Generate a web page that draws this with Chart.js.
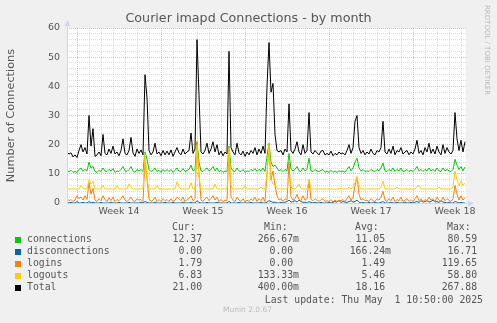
<!DOCTYPE html>
<html>
<head>
<meta charset="utf-8">
<script src="https://cdn.jsdelivr.net/npm/chart.js@4/dist/chart.umd.min.js"></script>
<style>
  html, body { margin: 0; padding: 0; background: #f0f0f0; }
  #wrap { position: relative; width: 497px; height: 323px; overflow: hidden; }
  #chart { position: absolute; left: 0; top: 0; }
  .txt { position: absolute; white-space: pre; font-family: "DejaVu Sans Mono", monospace; font-size: 9.8px; line-height: 12px; color: #555; }
  .sq { position: absolute; width: 6px; height: 6px; }
  .faint { position: absolute; white-space: pre; font-family: "DejaVu Sans", sans-serif; color: #bbb; }
</style>
</head>
<body>
<div id="wrap">
  <canvas id="chart" width="497" height="323"></canvas>
</div>
<script>
// one sample every 4 hours, 200 samples (about 33 days)
const STEP_HOURS = 4
const WEEK_START_HOUR = 20   // first week boundary, hours after left edge
const weekLabels = ["Week 14", "Week 15", "Week 16", "Week 17", "Week 18"]
const yTickLabels = [0, 10, 20, 30, 40, 50, 60]

const connections = [
  11.0, 10.8, 11.2, 10.5, 10.8, 10.5, 11.5, 12.0, 11.0, 11.5,
  11.0, 14.0, 12.0, 12.5, 10.8, 10.5, 11.2, 10.8, 12.0, 11.0,
  10.8, 11.5, 11.0, 11.8, 10.5, 11.0, 10.8, 11.5, 12.5, 11.0,
  10.8, 11.5, 12.5, 11.0, 10.5, 11.5, 11.0, 11.5, 10.8, 17.5,
  15.0, 11.5, 10.8, 11.2, 12.0, 10.8, 11.2, 10.5, 11.5, 10.8,
  11.5, 10.8, 11.5, 10.5, 11.2, 12.0, 11.0, 10.8, 11.8, 10.8,
  11.2, 11.5, 13.0, 11.0, 11.5, 21.0, 14.0, 11.0, 10.8, 11.5,
  12.0, 11.0, 11.5, 12.5, 11.0, 12.0, 10.8, 11.2, 10.5, 11.0,
  10.8, 19.5, 12.0, 11.0, 10.8, 12.0, 11.0, 10.8, 11.5, 10.5,
  11.0, 10.8, 11.5, 11.0, 11.8, 10.8, 11.5, 11.0, 12.0, 10.8,
  16.0, 20.5, 14.0, 12.5, 13.0, 12.0, 11.0, 11.5, 10.8, 11.5,
  11.0, 17.0, 11.5, 11.0, 11.5, 12.5, 11.0, 10.8, 12.0, 11.0,
  11.5, 15.4, 11.0, 10.8, 11.5, 11.0, 10.8, 11.2, 11.5, 10.5,
  11.0, 10.5, 11.2, 10.5, 11.0, 10.5, 11.0, 10.8, 11.0, 10.5,
  11.5, 12.5, 11.0, 12.0, 14.0, 15.4, 12.0, 11.0, 11.5, 10.8,
  11.0, 10.8, 11.5, 11.0, 10.8, 11.5, 11.0, 12.0, 13.7, 11.0,
  10.8, 11.5, 11.0, 12.0, 10.8, 11.5, 11.0, 12.0, 10.8, 11.0,
  11.5, 10.8, 11.2, 10.8, 11.5, 12.5, 11.0, 11.5, 10.8, 11.5,
  11.0, 12.0, 11.0, 11.5, 10.8, 12.0, 11.0, 10.8, 12.0, 11.0,
  11.5, 11.0, 10.8, 11.5, 15.0, 13.0, 11.5, 12.5, 11.0, 12.37
]

const disconnections = [
  0.3, 0, 0.2, 0, 0, 0.5, 0, 0, 0.2, 0,
  0, 0.5, 0, 0.3, 0, 0, 0, 0.2, 0, 0,
  0, 0, 0.3, 0, 0, 0, 0.2, 0, 0, 0,
  0, 0.2, 0, 0, 0, 0, 0, 0.3, 0, 0.5,
  0.2, 0, 0, 0, 0.3, 0, 0, 0, 0, 0.2,
  0, 0, 0, 0.2, 0, 0, 0, 0, 0.3, 0,
  0, 0, 0.3, 0, 0, 0.8, 0.2, 0, 0, 0,
  0.2, 0, 0, 0, 0, 0.3, 0, 0, 0, 0,
  0, 0.5, 0, 0, 0, 0, 0.2, 0, 0, 0,
  0, 0, 0.2, 0, 0, 0, 0, 0.3, 0, 0,
  0.3, 0.8, 0.5, 0.2, 0.3, 0, 0, 0.2, 0, 0.3,
  0.5, 1.0, 0.3, 0.5, 0.8, 0.3, 1.0, 0.5, 0.2, 0.3,
  0, 0.5, 0.2, 0, 0.3, 0, 0, 0.2, 0, 0,
  0, 0.3, 0, 0.2, 0.5, 0.3, 0.8, 0.2, 0.5, 0.3,
  0.2, 0.5, 0.8, 0.3, 0.5, 1.0, 0.3, 0, 0.2, 0,
  0, 0.2, 0, 0, 0.3, 0, 0, 0.2, 0.5, 0,
  0, 0, 0.3, 0, 0, 0.2, 0, 0, 0, 0.3,
  0, 0, 0.2, 0, 0.3, 0.5, 0.2, 0.8, 0.3, 0.5,
  0.8, 0.3, 0.5, 1.0, 0.3, 0.5, 0.2, 0.8, 0.3, 0.2,
  0, 0.3, 0, 0, 0.5, 0.3, 0, 0.2, 0, 0
]

const logins = [
  1.5, 0.8, 1.2, 0.5, 1.0, 2.5, 1.5, 2.0, 1.0, 2.5,
  1.2, 7.0, 3.0, 5.0, 1.0, 0.5, 1.5, 0.8, 2.5, 1.2,
  0.5, 1.8, 0.8, 2.0, 0.5, 1.2, 0.8, 1.5, 2.5, 1.0,
  0.5, 1.2, 2.0, 0.8, 0.5, 1.5, 1.0, 1.2, 0.5, 15.0,
  8.0, 1.5, 0.5, 1.0, 2.0, 0.5, 1.2, 0.5, 1.5, 0.8,
  1.2, 0.5, 1.5, 0.5, 1.0, 2.0, 1.5, 0.8, 2.0, 0.5,
  1.2, 1.5, 2.5, 0.8, 1.5, 21.0, 10.0, 1.0, 0.5, 1.5,
  2.0, 0.8, 1.5, 2.5, 1.0, 2.0, 0.5, 1.2, 0.5, 1.0,
  0.8, 19.0, 2.0, 1.0, 0.5, 2.0, 1.0, 0.5, 1.5, 0.3,
  1.0, 0.5, 1.5, 0.8, 2.0, 0.5, 1.5, 0.8, 2.0, 0.5,
  10.0, 20.0, 8.0, 11.0, 6.0, 2.5, 1.0, 1.5, 0.5, 1.5,
  1.0, 14.0, 2.0, 1.0, 1.5, 3.0, 1.2, 0.8, 2.5, 1.0,
  1.5, 8.0, 1.2, 0.8, 1.5, 1.0, 0.5, 1.2, 1.5, 0.5,
  0.8, 0.5, 1.2, 0.3, 1.0, 0.5, 1.0, 0.8, 1.2, 0.5,
  1.5, 2.5, 1.0, 2.0, 6.0, 9.0, 3.0, 1.0, 1.5, 0.8,
  1.0, 0.5, 1.5, 0.8, 0.5, 1.5, 1.0, 2.0, 4.0, 1.0,
  0.5, 1.5, 0.8, 2.0, 0.5, 1.2, 0.8, 2.0, 0.5, 1.0,
  1.5, 0.5, 1.2, 0.5, 1.5, 2.5, 0.8, 1.5, 0.5, 1.2,
  0.8, 2.0, 1.0, 1.5, 0.5, 2.0, 1.0, 0.5, 2.0, 0.8,
  1.5, 1.0, 0.5, 1.5, 6.0, 3.0, 1.0, 2.5, 1.0, 1.79
]

const logouts = [
  4.8, 4.8, 4.8, 4.8, 4.8, 4.8, 4.8, 6.0, 5.2, 4.8,
  4.8, 8.0, 6.5, 7.5, 4.8, 4.8, 4.8, 4.8, 6.0, 4.8,
  4.8, 4.8, 4.8, 4.8, 4.8, 6.0, 4.8, 4.8, 4.8, 4.8,
  4.8, 6.5, 5.5, 4.8, 4.8, 4.8, 4.8, 4.8, 4.8, 17.0,
  8.0, 4.8, 4.8, 4.8, 4.8, 6.0, 4.8, 4.8, 4.8, 4.8,
  4.8, 4.8, 4.8, 4.8, 4.8, 7.3, 5.5, 4.8, 4.8, 4.8,
  4.8, 4.8, 7.0, 4.8, 4.8, 20.0, 9.0, 4.8, 4.8, 4.8,
  4.8, 4.8, 4.8, 4.8, 6.5, 4.8, 4.8, 4.8, 4.8, 4.8,
  4.8, 19.0, 6.0, 4.8, 4.8, 4.8, 4.8, 4.8, 4.8, 6.0,
  4.8, 4.8, 4.8, 4.8, 4.8, 4.8, 4.8, 5.5, 4.8, 4.8,
  10.0, 20.0, 8.0, 6.5, 6.5, 5.2, 4.8, 4.8, 4.8, 4.8,
  4.8, 8.5, 5.5, 4.8, 4.8, 5.5, 6.5, 5.0, 4.8, 4.8,
  4.8, 8.0, 4.8, 4.8, 4.8, 4.8, 4.8, 4.8, 4.8, 4.8,
  4.8, 4.8, 4.8, 4.8, 4.8, 4.8, 4.8, 5.0, 4.8, 4.8,
  4.8, 5.5, 4.8, 5.5, 7.0, 9.0, 6.0, 4.8, 4.8, 4.8,
  4.8, 4.8, 4.8, 4.8, 4.8, 4.8, 4.8, 5.5, 7.5, 4.8,
  4.8, 4.8, 4.8, 4.8, 4.8, 5.5, 4.8, 4.8, 4.8, 4.8,
  4.8, 4.8, 4.8, 4.8, 4.8, 5.5, 6.0, 4.8, 4.8, 4.8,
  4.8, 4.8, 4.8, 4.8, 4.8, 4.8, 5.5, 4.8, 4.8, 4.8,
  4.8, 4.8, 4.8, 5.5, 11.0, 8.0, 6.0, 7.5, 6.0, 6.83
]

const total = [
  17.5, 16.8, 17.2, 15.8, 16.5, 15.6, 18.0, 20.0, 17.5, 19.0,
  16.8, 30.0, 19.5, 25.5, 16.0, 16.5, 17.5, 16.2, 23.5, 17.0,
  16.5, 18.5, 17.0, 19.5, 16.8, 17.5, 16.2, 18.0, 22.0, 17.0,
  16.5, 18.0, 22.5, 17.2, 16.0, 18.5, 17.0, 18.2, 16.5, 44.0,
  36.0, 18.0, 16.5, 17.5, 20.5, 16.8, 17.5, 16.2, 18.0, 16.5,
  17.8, 16.5, 18.2, 16.0, 17.5, 19.0, 17.2, 16.5, 18.5, 16.8,
  17.5, 18.0, 24.0, 17.0, 18.5, 56.0, 37.0, 17.5, 16.8, 18.0,
  20.5, 17.0, 18.5, 21.0, 17.5, 20.0, 16.5, 17.8, 16.2, 17.5,
  16.8, 52.0, 19.0, 17.5, 16.5, 20.5, 17.2, 16.5, 17.8, 16.0,
  17.5, 16.5, 18.0, 17.0, 19.0, 16.5, 18.5, 17.0, 19.5, 17.0,
  40.0, 55.0, 38.0, 41.0, 23.5, 18.0, 17.5, 18.0, 16.5, 18.5,
  17.5, 34.0, 18.0, 17.0, 18.5, 21.0, 17.5, 16.5, 20.0, 17.0,
  18.0, 31.0, 17.5, 16.8, 18.0, 17.2, 16.5, 17.8, 18.0, 16.5,
  17.0, 16.5, 17.8, 16.2, 17.0, 16.5, 17.5, 16.8, 17.2, 16.5,
  18.0, 20.0, 17.0, 19.0, 28.0, 30.0, 19.0, 17.0, 18.0, 16.5,
  17.5, 16.8, 18.5, 17.0, 16.5, 18.0, 17.5, 19.0, 28.0, 17.5,
  16.8, 18.5, 17.0, 19.5, 16.5, 18.0, 17.5, 19.0, 16.8, 17.5,
  18.0, 16.5, 17.5, 16.8, 18.5, 21.5, 17.0, 18.0, 16.5, 19.0,
  17.5, 20.5, 17.0, 18.5, 16.8, 19.5, 17.5, 16.5, 20.0, 17.0,
  19.0, 17.5, 16.8, 18.0, 31.0, 22.0, 18.0, 21.5, 17.5, 21.0
]

const seriesNames = ["connections", "disconnections", "logins", "logouts", "Total"]
const seriesColors = ["#00cc00", "#0066b3", "#ff8000", "#ffcc00", "#000000"]
const curValues = ["12.37 ", " 0.00 ", " 1.79 ", " 6.83 ", "21.00 "]
const minValues = ["266.67m", "  0.00 ", "  0.00 ", "133.33m", "400.00m"]
const avgValues = [" 11.05 ", "166.24m", "  1.49 ", "  5.46 ", " 18.16 "]
const maxValues = [" 80.59 ", " 16.71 ", "119.65 ", " 58.80 ", "267.88 "]
const lastUpdate = "Last update: Thu May  1 10:50:00 2025"

const seriesData = [connections, disconnections, logins, logouts, total]

// plot box in px (munin layout)
const PLOT = { left: 67, right: 466, top: 28, bottom: 203 }
const X_MAX = (PLOT.right - PLOT.left) * 2   // 2 hours per pixel

const toPoints = (arr) => arr.map((v, i) => ({ x: i * STEP_HOURS, y: v }))

const majorGrid = "rgba(222, 79, 79, 0.42)"
const minorGrid = "rgba(143, 143, 143, 0.3)"
const noGrid = "rgba(0, 0, 0, 0)"
const axisColor = "#cfd6f8"

// white canvas + the two arrows rrdtool draws at the axis ends
const munin = {
  id: "munin",
  beforeDraw(chart) {
    const { ctx, chartArea: a } = chart
    ctx.save()
    ctx.fillStyle = "#ffffff"
    ctx.fillRect(a.left, a.top, a.right - a.left, a.bottom - a.top)
    ctx.restore()
  },
  afterDraw(chart) {
    const { ctx, chartArea: a } = chart
    ctx.save()
    ctx.strokeStyle = axisColor
    ctx.fillStyle = axisColor
    ctx.lineWidth = 1
    ctx.beginPath()
    ctx.moveTo(a.left + 0.5, a.bottom)
    ctx.lineTo(a.left + 0.5, a.top - 4)
    ctx.moveTo(a.left, a.bottom + 0.5)
    ctx.lineTo(a.right + 4, a.bottom + 0.5)
    ctx.stroke()
    ctx.beginPath()
    ctx.moveTo(a.left + 0.5, a.top - 8)
    ctx.lineTo(a.left - 2.5, a.top - 2)
    ctx.lineTo(a.left + 3.5, a.top - 2)
    ctx.closePath()
    ctx.fill()
    ctx.beginPath()
    ctx.moveTo(a.right + 8, a.bottom + 0.5)
    ctx.lineTo(a.right + 2, a.bottom - 2.5)
    ctx.lineTo(a.right + 2, a.bottom + 3.5)
    ctx.closePath()
    ctx.fill()
    ctx.restore()
  },
}

const ctx = document.getElementById("chart").getContext("2d")
new Chart(ctx, {
  type: "line",
  data: {
    datasets: seriesData.map((arr, i) => ({
      label: seriesNames[i],
      data: toPoints(arr),
      borderColor: seriesColors[i],
      borderWidth: 1,
      pointRadius: 0,
      tension: 0,
      fill: false,
      order: seriesData.length - i,
    })),
  },
  options: {
    responsive: false,
    animation: false,
    events: [],
    layout: { padding: 0 },
    plugins: {
      legend: { display: false },
      tooltip: { enabled: false },
      title: {
        display: true,
        text: "Courier imapd Connections - by month",
        color: "#555",
        font: { family: "DejaVu Sans", size: 12.7, weight: "normal" },
        padding: { top: 11.5, bottom: 1.26 },
      },
    },
    scales: {
      x: {
        type: "linear",
        min: 0,
        max: X_MAX,
        afterBuildTicks(scale) {
          const t = []
          for (let h = WEEK_START_HOUR - 12; h <= X_MAX; h += 12) t.push({ value: h })
          scale.ticks = t
        },
        afterFit(scale) { scale.height = 323 - PLOT.bottom },
        ticks: {
          autoSkip: false,
          maxRotation: 0,
          padding: 3,
          color: "#555",
          font: { family: "DejaVu Sans", size: 9.5 },
          callback(v) {
            const off = v - WEEK_START_HOUR - 84
            if (off % 168 === 0) return weekLabels[off / 168] || ""
            return ""
          },
        },
        grid: {
          drawTicks: false,
          lineWidth: 1,
          color(c) {
            const off = c.tick.value - WEEK_START_HOUR
            if (off % 168 === 0) return majorGrid
            if (off % 24 === 0) return minorGrid
            return noGrid
          },
        },
        border: { display: false, dash: [1, 1] },
      },
      y: {
        min: 0,
        max: 60,
        afterBuildTicks(scale) {
          const t = []
          for (let v = 0; v <= 60; v += 2) t.push({ value: v })
          scale.ticks = t
        },
        afterFit(scale) { scale.width = PLOT.left },
        ticks: {
          autoSkip: false,
          padding: 7,
          color: "#555",
          font: { family: "DejaVu Sans", size: 9.5 },
          callback: (v) => (yTickLabels.includes(v) ? String(v) : ""),
        },
        grid: {
          drawTicks: false,
          lineWidth: 1,
          color: (c) => (c.tick.value === 0 ? noGrid : c.tick.value % 10 === 0 ? majorGrid : minorGrid),
        },
        border: { display: false, dash: [1, 1] },
        title: {
          display: true,
          text: "Number of Connections",
          color: "#555",
          font: { family: "DejaVu Sans", size: 11.3 },
          padding: { top: 4, bottom: 0 },
        },
      },
      right: {
        position: "right",
        display: true,
        grid: { display: false },
        ticks: { display: false },
        border: { display: false },
        afterFit(scale) { scale.width = 497 - PLOT.right },
      },
    },
  },
  plugins: [munin],
})

// legend / stats block, laid out like rrdtool's text rows
const wrap = document.getElementById("wrap")
function addText(str, left, top, right, cls) {
  const el = document.createElement("div")
  el.className = cls || "txt"
  el.textContent = str
  el.style.top = top + "px"
  if (right != null) {
    el.style.right = (497 - right) + "px"
    el.style.textAlign = "right"
  } else {
    el.style.left = left + "px"
  }
  wrap.appendChild(el)
  return el
}

addText("Cur:", 172, 221)
addText("Min:", 264, 221)
addText("Avg:", 355, 221)
addText("Max:", 447, 221)
seriesNames.forEach((name, i) => {
  const top = 233 + i * 12
  const sq = document.createElement("div")
  sq.className = "sq"
  sq.style.left = "15px"
  sq.style.top = (top + 4) + "px"
  sq.style.background = seriesColors[i]
  wrap.appendChild(sq)
  addText(name, 27, top)
  addText(curValues[i], null, top, 208)
  addText(minValues[i], null, top, 299)
  addText(avgValues[i], null, top, 391)
  addText(maxValues[i], null, top, 483)
})
addText(lastUpdate, null, 294, 483)

const munVer = addText("Munin 2.0.67", 223, 305, null, "faint")
munVer.style.fontSize = "7.5px"
const rrd = addText("RRDTOOL / TOBI OETIKER", 0, 0, null, "faint")
rrd.style.fontSize = "7px"
rrd.style.left = "483px"
rrd.style.top = "5px"
rrd.style.writingMode = "vertical-rl"
</script>
</body>
</html>
